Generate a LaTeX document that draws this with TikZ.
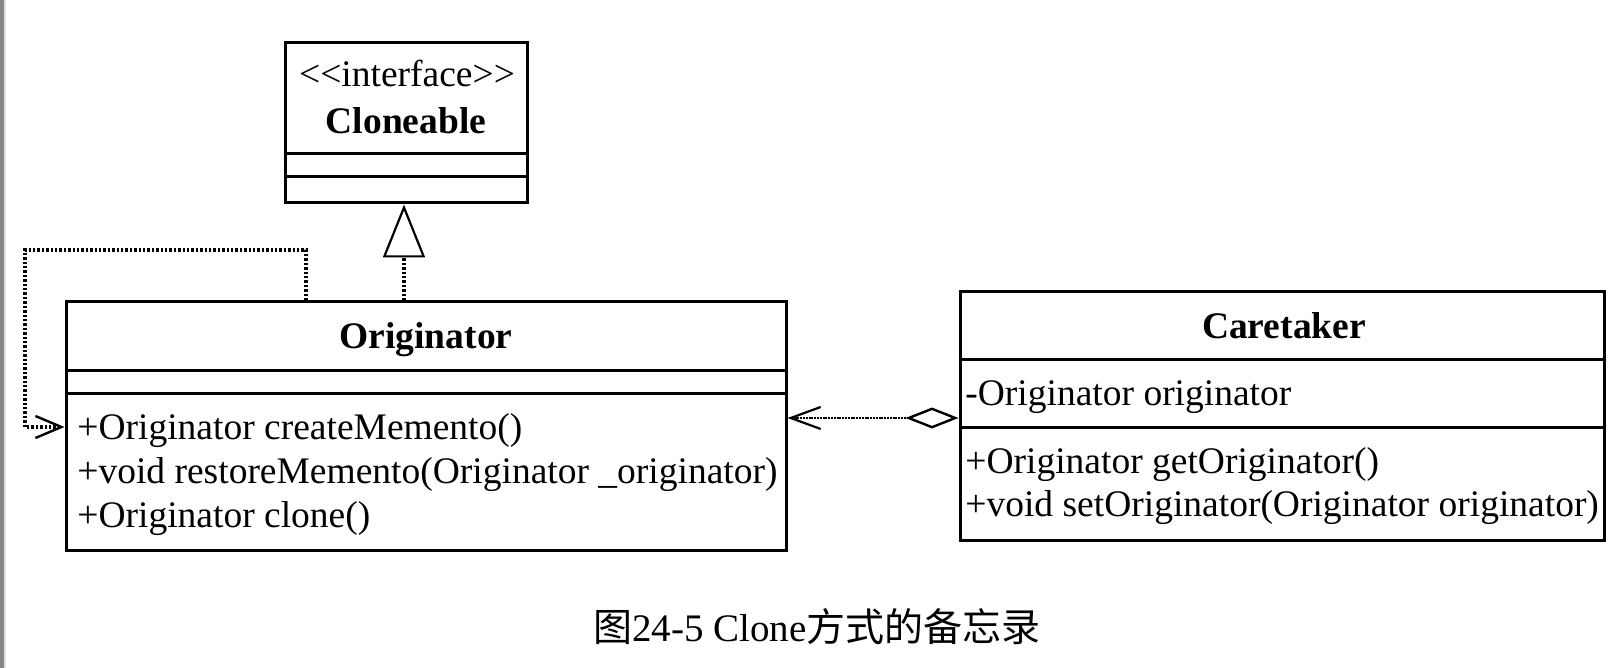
\documentclass[tikz,border=0pt]{standalone}
\usepackage{fontspec}
\setmainfont{Liberation Serif}
\newfontfamily\cjk{Noto Sans CJK SC}
\usetikzlibrary{arrows.meta,calc}
\definecolor{barcol}{RGB}{134,134,134}
\definecolor{barlight}{RGB}{225,225,225}
\begin{document}
\begin{tikzpicture}[x=0.5pt,y=-0.5pt,
  box/.style={draw, line width=1.5pt, inner sep=0, rectangle},
  sepline/.style={line width=1.5pt},
  lbl/.style={inner sep=0, font=\fontsize{18.75}{22}\selectfont},
  ttl/.style={inner sep=0, font=\fontsize{18.75}{22}\selectfont\bfseries, anchor=base},
  mem/.style={lbl, anchor=base west},
  dotline/.style={line width=1.6pt, dash pattern=on 1.2pt off 1pt},
  aggline/.style={line width=1.3pt, dash pattern=on 1pt off 0.4pt},
]
\useasboundingbox (0,0) rectangle (1622,668);
\fill[white] (0,0) rectangle (1622,668);
\fill[barcol] (0,0) rectangle (4,668);
\fill[barlight] (4,0) rectangle (6,668);

% boxes
\node[box, minimum width=121pt, minimum height=80pt] (clone) at (406,123) {};
\node[box, minimum width=360pt, minimum height=124pt] (orig) at (426,426) {};
\node[box, minimum width=322pt, minimum height=124pt] (care) at (1282,416) {};

% compartments
\draw[sepline] (clone.west |- 0,154) -- (clone.east |- 0,154);
\draw[sepline] (clone.west |- 0,177) -- (clone.east |- 0,177);
\draw[sepline] (orig.west |- 0,370) -- (orig.east |- 0,370);
\draw[sepline] (orig.west |- 0,393) -- (orig.east |- 0,393);
\draw[sepline] (care.west |- 0,359) -- (care.east |- 0,359);
\draw[sepline] (care.west |- 0,427) -- (care.east |- 0,427);

% texts
\node[lbl, anchor=base] (cstereo) at (407,87) {<\kern0pt<interface>\kern0pt>};
\node[ttl] (cname) at (406,134) {Cloneable};
\node[ttl] (oname) at (426,349) {Originator};
\node[mem] (om1) at (77,439) {+Originator createMemento()};
\node[mem] (om2) at (77,483) {+void restoreMemento(Originator \_originator)};
\node[mem] (om3) at (77,527) {+Originator clone()};
\node[ttl] (kname) at (1284,338) {Caretaker};
\node[mem] (ka1) at (965,405) {-Originator originator};
\node[mem] (km1) at (965,473) {+Originator getOriginator()};
\node[mem] (km2) at (965,516) {+void setOriginator(Originator originator)};

% realization
\draw[dotline, -{Triangle[open, length=26.5pt, width=21pt, line width=1.1pt]}]
  (orig.north -| 404,0) -- (clone.south -| 404,0);

% self dependency loop
\coordinate (lpA) at (306,250);
\coordinate (lpB) at (25,427);
\draw[dotline, -{Straight Barb[length=13pt, width=11pt, line width=1.2pt]}]
  (orig.north -| lpA) -- (lpA) -| (lpB) -- (orig.west |- lpB);

% aggregation
\coordinate (agg) at (870,418);
\draw[aggline, {Straight Barb[length=15pt, width=11pt, line width=1.1pt]}-{Diamond[open, length=26.5pt, width=10.5pt, line width=1.2pt]}]
  (orig.east |- agg) -- (care.west |- agg);

% caption
\node[inner sep=0, anchor=base, font=\fontsize{19.5}{24}\selectfont] (cap) at (817,641) {{\cjk 图}24-5 Clone{\cjk 方式的备忘录}};
\end{tikzpicture}
\end{document}
